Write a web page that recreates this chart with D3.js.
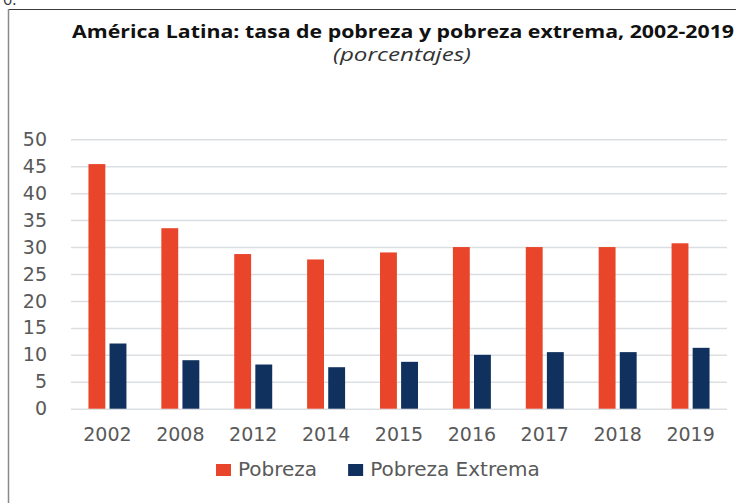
<!DOCTYPE html>
<html>
<head>
<meta charset="utf-8">
<script src="https://cdn.jsdelivr.net/npm/d3@7"></script>
<style>
  body { margin: 0; background: #fff; }
  svg { display: block; }
  .tick text { font-family: "DejaVu Sans", Verdana, sans-serif; fill: #595959; }
</style>
</head>
<body>
<svg id="chart" width="736" height="503"></svg>
<script>
// --- Data ---
const years = ["2002", "2008", "2012", "2014", "2015", "2016", "2017", "2018", "2019"];
const pobreza = [45.4, 33.5, 28.7, 27.7, 29.0, 30.0, 30.0, 30.0, 30.7];
const pobrezaExtrema = [12.1, 9.0, 8.2, 7.7, 8.7, 10.0, 10.5, 10.5, 11.3];
const seriesNames = ["Pobreza", "Pobreza Extrema"];
const yTicks = [0, 5, 10, 15, 20, 25, 30, 35, 40, 45, 50];

const COLORS = {
    Pobreza: "#e9452a",
    "Pobreza Extrema": "#10305d",
    grid: "#dcdfe2",
    text: "#595959"
};

const svg = d3.select("#chart");
const plot = { left: 71, right: 727, top: 139.3, bottom: 408.7 };

const rows = years.map((yr, i) => ({
    year: yr,
    values: [
        { key: seriesNames[0], value: pobreza[i] },
        { key: seriesNames[1], value: pobrezaExtrema[i] }
    ]
}));

// --- Frame ---
svg.append("text")
    .attr("x", 3).attr("y", 5)
    .attr("font-family", "Open Sans, sans-serif")
    .attr("font-size", 16)
    .attr("fill", "#333")
    .text("6.");

svg.append("line")
    .attr("x1", 8).attr("x2", 736).attr("y1", 9.5).attr("y2", 9.5)
    .attr("stroke", "#3a3a3a").attr("stroke-width", 1);
svg.append("line")
    .attr("x1", 8.5).attr("x2", 8.5).attr("y1", 9).attr("y2", 503)
    .attr("stroke", "#8a8a8a").attr("stroke-width", 1.5);

// --- Titles ---
svg.append("text")
    .attr("x", 72).attr("y", 38)
    .attr("font-family", "Open Sans, sans-serif")
    .attr("font-weight", "bold")
    .attr("font-size", 18)
    .attr("fill", "#111")
    .attr("textLength", 662)
    .attr("lengthAdjust", "spacingAndGlyphs")
    .text("América Latina: tasa de pobreza y pobreza extrema, 2002-2019");

svg.append("text")
    .attr("x", 333).attr("y", 61)
    .attr("font-family", "Open Sans, sans-serif")
    .attr("font-style", "italic")
    .attr("font-size", 19)
    .attr("fill", "#333")
    .attr("textLength", 138)
    .attr("lengthAdjust", "spacingAndGlyphs")
    .text("(porcentajes)");

// --- Scales ---
const x0 = d3.scaleBand()
    .domain(years)
    .range([plot.left, plot.right])
    .paddingInner(0.479)
    .paddingOuter(0.2395);

const x1 = d3.scaleBand()
    .domain(seriesNames)
    .range([0, x0.bandwidth()])
    .paddingInner(0.2);

const y = d3.scaleLinear()
    .domain([0, 50])
    .range([plot.bottom, plot.top]);

// --- Grid ---
const grid = svg.append("g")
    .attr("transform", `translate(${plot.left},0)`)
    .call(d3.axisLeft(y).tickValues(yTicks).tickSize(-(plot.right - plot.left)).tickFormat(""));
grid.select(".domain").remove();
grid.selectAll(".tick line").attr("stroke", COLORS.grid).attr("stroke-width", 1.5);

// --- Y axis labels ---
const yAxis = svg.append("g")
    .attr("transform", `translate(${plot.left},0)`)
    .call(d3.axisLeft(y).tickValues(yTicks).tickSize(0).tickPadding(24));
yAxis.select(".domain").remove();
yAxis.selectAll("text").attr("font-size", 19);

// --- Bars ---
const groups = svg.append("g")
    .selectAll("g")
    .data(rows)
    .join("g")
    .attr("transform", d => `translate(${x0(d.year)},0)`);

groups.selectAll("rect")
    .data(d => d.values)
    .join("rect")
    .attr("x", d => x1(d.key))
    .attr("y", d => y(d.value))
    .attr("width", x1.bandwidth())
    .attr("height", d => y(0) - y(d.value))
    .attr("fill", d => COLORS[d.key]);

// --- X axis labels ---
const xAxis = svg.append("g")
    .attr("transform", `translate(0,${plot.bottom})`)
    .call(d3.axisBottom(x0).tickSize(0).tickPadding(19));
xAxis.select(".domain").remove();
xAxis.selectAll("text").attr("font-size", 19);

// --- Legend ---
const legend = svg.append("g").attr("transform", "translate(216,464)");
let lx = 0;
seriesNames.forEach(name => {
    legend.append("rect")
        .attr("x", lx).attr("y", 0)
        .attr("width", 15).attr("height", 12)
        .attr("fill", COLORS[name]);
    const t = legend.append("text")
        .attr("x", lx + 22).attr("y", 12)
        .attr("font-family", "DejaVu Sans, Verdana, sans-serif")
        .attr("font-size", 20)
        .attr("fill", COLORS.text)
        .text(name);
    lx += 22 + t.node().getComputedTextLength() + 31;
});
</script>
</body>
</html>
